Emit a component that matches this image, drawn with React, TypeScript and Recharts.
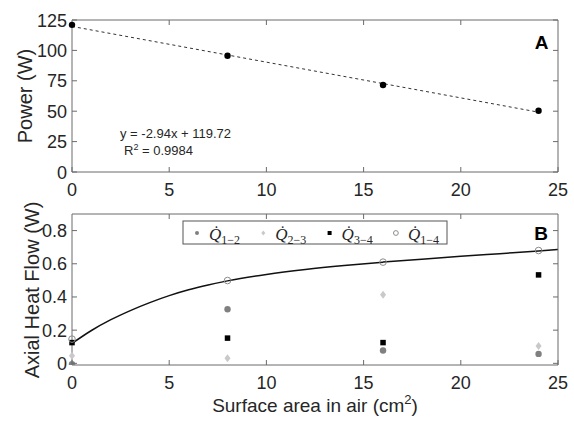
import React from 'react';
import { ComposedChart, Line, Scatter, XAxis, YAxis } from 'recharts';

/* ── Data ─────────────────────────────────────────────────── */
const areaCm2 = [0, 8, 16, 24];
const powerW = [121, 95.6, 71.5, 50.4];
const powerFitX = [0, 24];
const powerFitY = [119.72, 49.2];

const q12 = [-0.005, 0.326, 0.077, 0.057];
const q23 = [0.045, 0.03, 0.414, 0.105];
const q34 = [0.125, 0.152, 0.125, 0.533];
const q14 = [0.146, 0.499, 0.61, 0.68];

const flowFitX = [0, 1, 2, 3, 4, 5, 6, 7, 8, 10, 12, 14, 16, 18, 20, 22, 24, 25];
const flowFitY = [0.12, 0.198, 0.263, 0.318, 0.366, 0.408, 0.443, 0.472, 0.497, 0.536, 0.566, 0.59, 0.61, 0.628, 0.645, 0.661, 0.677, 0.686];

const xTicks = [0, 5, 10, 15, 20, 25];
const powerTicks = [0, 25, 50, 75, 100, 125];
const flowTicks = [0, 0.2, 0.4, 0.6, 0.8];

/* ── Layout (plot boxes in page pixels) ───────────────────── */
const PLOT_L = 72;
const PLOT_W = 486;
const BOX_A = { top: 20, h: 152, y0: 0, y1: 125 };
const BOX_B = { top: 214, h: 151, y0: -0.01, y1: 0.9 };

const zip = (xs: number[], ys: number[]) => xs.map((x, i) => ({ x, y: ys[i] }));

/* ── Style tokens ─────────────────────────────────────────── */
const AXIS = '#6b6b6b';
const TEXT = '#262626';
const SANS = "'Liberation Sans', Arial, sans-serif";
const SERIF = "'Liberation Serif', 'Times New Roman', serif";

/* ── Marker shapes ────────────────────────────────────────── */
type Mk = (cx: number, cy: number, big: boolean) => React.ReactElement;
const dotMk = (color: string): Mk => (cx, cy, big) => <circle cx={cx} cy={cy} r={big ? 3.2 : 2} fill={color} />;
const diamondMk: Mk = (cx, cy, big) => {
  const w = big ? 3 : 2;
  const h = big ? 4 : 2.5;
  return <polygon points={`${cx},${cy - h} ${cx + w},${cy} ${cx},${cy + h} ${cx - w},${cy}`} fill="#c9c9c9" />;
};
const squareMk: Mk = (cx, cy, big) => {
  const s = big ? 5.5 : 4;
  return <rect x={cx - s / 2} y={cy - s / 2} width={s} height={s} fill="#000" />;
};
const ringMk: Mk = (cx, cy, big) => (
  <circle cx={cx} cy={cy} r={big ? 3.3 : 2.4} fill="none" stroke="#8c8c8c" strokeWidth={1} />
);

const flowSeries = [
  { key: 'q12', sub: '1−2', values: q12, mk: dotMk('#808080') },
  { key: 'q23', sub: '2−3', values: q23, mk: diamondMk },
  { key: 'q34', sub: '3−4', values: q34, mk: squareMk },
  { key: 'q14', sub: '1−4', values: q14, mk: ringMk },
];

/* ── Tick renderers (inward ticks, MATLAB style) ──────────── */
const BottomTick = (p: any) => (
  <g>
    <path d={`M${p.x},${p.y}V${p.y - 5}`} stroke={AXIS} strokeWidth={1} fill="none" />
    <text x={p.x} y={p.y + 24} textAnchor="middle" fontSize={18} fill={TEXT} fontFamily={SANS}>
      {p.payload.value}
    </text>
  </g>
);
const LeftTick = (p: any) => (
  <g>
    <path d={`M${p.x},${p.y}H${p.x + 5}`} stroke={AXIS} strokeWidth={1} fill="none" />
    <text x={p.x - 5} y={p.y + 6.5} textAnchor="end" fontSize={18} fill={TEXT} fontFamily={SANS}>
      {p.payload.value}
    </text>
  </g>
);

const xAxis = (height: number) => (
  <XAxis
    dataKey="x"
    type="number"
    domain={[0, 25]}
    ticks={xTicks}
    interval={0}
    height={height}
    tickSize={0}
    tickMargin={0}
    tickLine={false}
    axisLine={{ stroke: AXIS }}
    tick={<BottomTick />}
  />
);

const yAxis = (domain: number[], ticks: number[]) => (
  <YAxis
    type="number"
    domain={domain}
    ticks={ticks}
    interval={0}
    allowDataOverflow
    width={40}
    tickSize={0}
    tickMargin={0}
    tickLine={false}
    axisLine={{ stroke: AXIS }}
    tick={<LeftTick />}
  />
);

/* Box frame (top + right edges with inward ticks) */
const Frame = ({ box, yTicks }: { box: typeof BOX_A; yTicks: number[] }) => {
  const right = PLOT_L + PLOT_W;
  const bottom = box.top + box.h;
  const tx = (t: number) => PLOT_L + (t / 25) * PLOT_W;
  const ty = (t: number) => bottom - ((t - box.y0) / (box.y1 - box.y0)) * box.h;
  return (
    <g stroke={AXIS} strokeWidth={1} fill="none">
      <path d={`M${PLOT_L},${box.top}H${right}V${bottom}`} />
      {xTicks.slice(1, -1).map((t) => (
        <path key={`t${t}`} d={`M${tx(t)},${box.top}V${box.top + 5}`} />
      ))}
      {yTicks.map((t) => (
        <path key={`r${t}`} d={`M${right},${ty(t)}H${right - 5}`} />
      ))}
    </g>
  );
};

export default function App() {
  return (
    <div style={{ position: 'absolute', left: 0, top: 0, width: 574, height: 424, background: '#fff' }}>
      {/* Panel A */}
      <div style={{ position: 'absolute', left: 0, top: 0 }}>
        <ComposedChart width={574} height={200} margin={{ top: 20, right: 16, bottom: 0, left: 32 }}>
          {xAxis(28)}
          {yAxis([0, 125], powerTicks)}
          <Line
            data={zip(powerFitX, powerFitY)}
            dataKey="y"
            type="linear"
            stroke="#333"
            strokeWidth={1}
            strokeDasharray="3 3"
            dot={false}
            isAnimationActive={false}
          />
          <Scatter
            data={zip(areaCm2, powerW)}
            dataKey="y"
            shape={(p: any) => <circle cx={p.cx} cy={p.cy} r={3.2} fill="#000" />}
            isAnimationActive={false}
          />
        </ComposedChart>
      </div>

      {/* Panel B */}
      <div style={{ position: 'absolute', left: 0, top: 200 }}>
        <ComposedChart width={574} height={224} margin={{ top: 14, right: 16, bottom: 0, left: 32 }}>
          {xAxis(59)}
          {yAxis([-0.01, 0.9], flowTicks)}
          <Line
            data={zip(flowFitX, flowFitY)}
            dataKey="y"
            type="monotone"
            stroke="#111"
            strokeWidth={1.5}
            dot={false}
            isAnimationActive={false}
          />
          {flowSeries.map((s) => (
            <Scatter
              key={s.key}
              data={zip(areaCm2, s.values)}
              dataKey="y"
              shape={(p: any) => s.mk(p.cx, p.cy, true)}
              isAnimationActive={false}
            />
          ))}
        </ComposedChart>
      </div>

      {/* Frame edges, titles, annotations, legend */}
      <svg width={574} height={424} style={{ position: 'absolute', left: 0, top: 0, pointerEvents: 'none' }}>
        <Frame box={BOX_A} yTicks={powerTicks} />
        <Frame box={BOX_B} yTicks={flowTicks} />

        <text transform="translate(32,96) rotate(-90)" textAnchor="middle" fontSize={20} fill={TEXT} fontFamily={SANS}>
          Power (W)
        </text>
        <text transform="translate(39,290) rotate(-90)" textAnchor="middle" fontSize={20} fill={TEXT} fontFamily={SANS}>
          Axial Heat Flow (W)
        </text>
        <text x={315} y={412} textAnchor="middle" fontSize={19} fill={TEXT} fontFamily={SANS}>
          Surface area in air (cm
          <tspan dy={-8} fontSize={13}>2</tspan>
          <tspan dy={8}>)</tspan>
        </text>

        <text x={120} y={137.5} fontSize={13} fill={TEXT} fontFamily={SANS}>
          y = -2.94x + 119.72
        </text>
        <text x={124} y={154.5} fontSize={13} fill={TEXT} fontFamily={SANS}>
          R<tspan dy={-5} fontSize={9}>2</tspan>
          <tspan dy={5}> = 0.9984</tspan>
        </text>

        <text x={541.5} y={48.5} textAnchor="middle" fontSize={19} fontWeight="bold" fill="#000" fontFamily={SANS}>
          A
        </text>
        <text x={541} y={239.5} textAnchor="middle" fontSize={19} fontWeight="bold" fill="#000" fontFamily={SANS}>
          B
        </text>

        <rect x={183} y={221} width={264} height={23} fill="#fff" stroke="#555" strokeWidth={1} />
        {flowSeries.map((s, i) => {
          const x0 = 191 + i * 66.3;
          return (
            <g key={s.key}>
              {s.mk(x0 + 6, 233, false)}
              <text x={x0 + 18} y={240} fontSize={17} fontStyle="italic" fill={TEXT} fontFamily={SERIF}>
                {'Q\u0307'}
                <tspan dy={4} fontSize={12} fontStyle="normal">{s.sub}</tspan>
              </text>
            </g>
          );
        })}
      </svg>
    </div>
  );
}
